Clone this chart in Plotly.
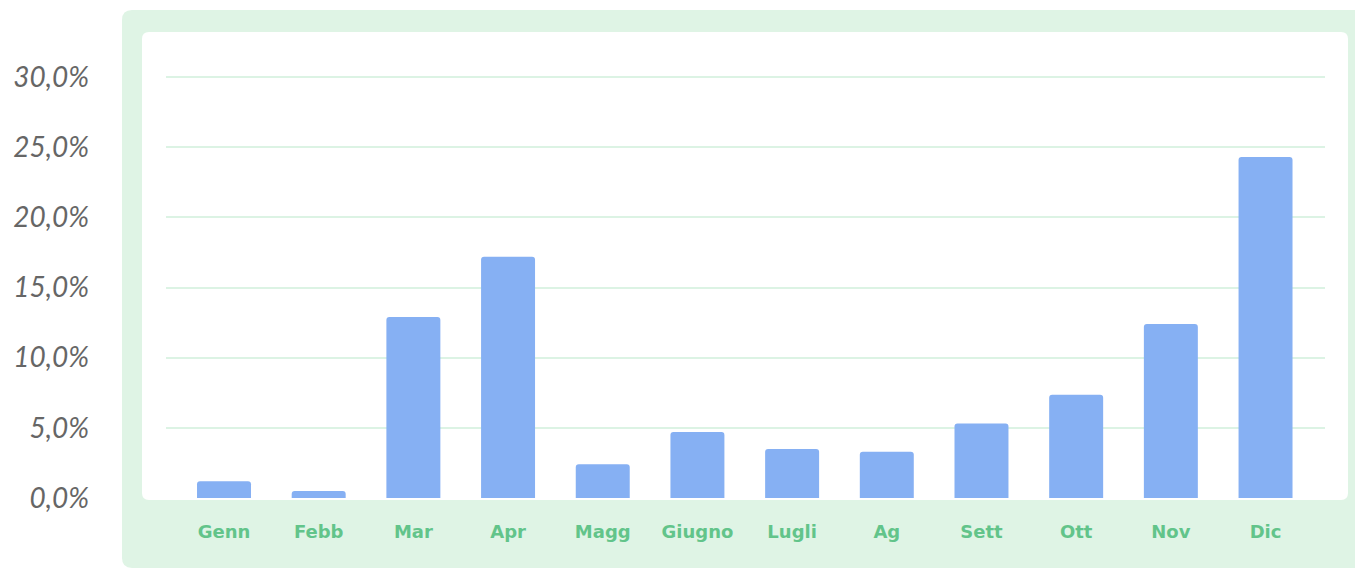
import plotly.graph_objects as go

months = ["Genn", "Febb", "Mar", "Apr", "Magg", "Giugno", "Lugli", "Ag", "Sett", "Ott", "Nov", "Dic"]
values = [1.2, 0.5, 12.9, 17.2, 2.4, 4.7, 3.5, 3.3, 5.3, 7.35, 12.4, 24.3]
tick_vals = [0, 5, 10, 15, 20, 25, 30]
tick_text = ["0,0%", "5,0%", "10,0%", "15,0%", "20,0%", "25,0%", "30,0%"]

W, H = 1355, 570
L, R, T, B = 166, 30, 32, 71
PW, PH = W - L - R, H - T - B


def px_to_paper(x, y):
    return (x - L) / PW, (H - B - y) / PH


def rounded_rect(x0, y0, x1, y1, r):
    pts = [
        ("M", [(x0 + r, y0)]),
        ("L", [(x1 - r, y0)]),
        ("Q", [(x1, y0), (x1, y0 + r)]),
        ("L", [(x1, y1 - r)]),
        ("Q", [(x1, y1), (x1 - r, y1)]),
        ("L", [(x0 + r, y1)]),
        ("Q", [(x0, y1), (x0, y1 - r)]),
        ("L", [(x0, y0 + r)]),
        ("Q", [(x0, y0), (x0 + r, y0)]),
    ]
    s = ""
    for cmd, ps in pts:
        s += cmd + " " + " ".join("%.5f,%.5f" % px_to_paper(px, py) for px, py in ps) + " "
    return s + "Z"


fig = go.Figure()
fig.add_trace(go.Bar(
    x=months, y=values,
    marker=dict(color="#86b0f3", cornerradius=3, line=dict(width=0)),
    hoverinfo="x+y",
))

shapes = [
    dict(type="path", xref="paper", yref="paper", layer="below",
         path=rounded_rect(122, 10, 1375, 568, 10),
         fillcolor="#dff4e5", line=dict(width=0)),
    dict(type="path", xref="paper", yref="paper", layer="below",
         path=rounded_rect(142, 32, 1348, 500, 7),
         fillcolor="#ffffff", line=dict(width=0)),
]

fig.update_layout(
    width=W, height=H,
    margin=dict(l=L, r=R, t=T, b=B, pad=0),
    paper_bgcolor="#ffffff",
    plot_bgcolor="rgba(0,0,0,0)",
    showlegend=False,
    bargap=0.43,
    shapes=shapes,
    xaxis=dict(
        range=[-0.6126, 11.628],
        showgrid=False, zeroline=False, showline=False,
        ticks="", ticklabelstandoff=20,
        tickfont=dict(family="DejaVu Sans", size=18, color="#62c48a", weight=700),
        fixedrange=True,
    ),
    yaxis=dict(
        range=[-0.0713, 33.207],
        tickvals=tick_vals, ticktext=tick_text,
        showgrid=True, gridcolor="#dcf3e4", gridwidth=2,
        zeroline=True, zerolinecolor="#ffffff", zerolinewidth=1,
        showline=False, ticks="", ticklabelstandoff=76,
        tickfont=dict(family="Lato", size=28, color="#666666", style="italic"),
        fixedrange=True,
    ),
)

fig.write_html(
    "out.html",
    config={"displayModeBar": False},
    post_script="document.body.style.margin='0';document.body.style.overflow='hidden';",
)
